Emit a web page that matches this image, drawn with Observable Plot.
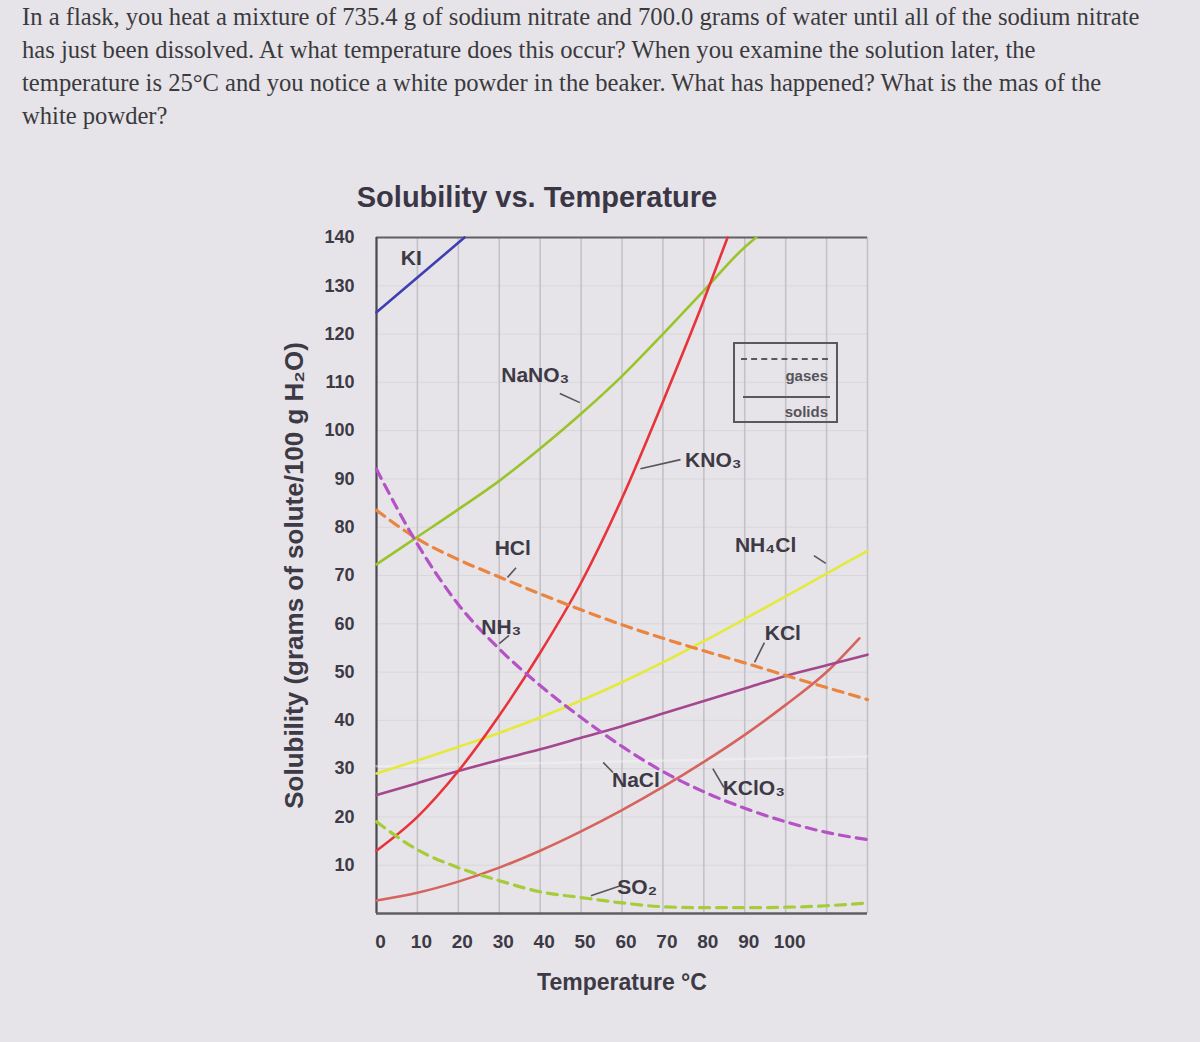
<!DOCTYPE html>
<html>
<head>
<meta charset="utf-8">
<script src="https://cdn.jsdelivr.net/npm/d3@7"></script>
<script src="https://cdn.jsdelivr.net/npm/@observablehq/plot@0.6"></script>
<style>
  body { margin:0; background:#e6e4e8; width:1200px; height:1042px; overflow:hidden; position:relative; font-family:"Liberation Sans", Arial, sans-serif; }
  #q { position:absolute; left:22px; top:0; font-family:"Liberation Serif","Times New Roman",serif; font-size:24.6px; line-height:33px; color:#3a3a3e; white-space:nowrap; }
  #title { position:absolute; left:0; width:1074px; text-align:center; top:181px; font-weight:bold; font-size:29px; color:#3b3646; }
  #chart { position:absolute; left:0; top:220px; }
  #legend { position:absolute; left:733px; top:342px; width:101px; height:77px; border:2px solid #5a585e; }
  #legend .dash { position:absolute; left:6px; top:14px; width:87px; border-top:2px dashed #5a585e; }
  #legend .solid { position:absolute; left:8px; top:52px; width:87px; border-top:2px solid #5a585e; }
  #legend .lt { position:absolute; right:8px; font-size:15px; font-weight:bold; color:#56545a; }
  g[aria-label="y-axis label"] text { font-size:26px; font-weight:bold; }
  g[aria-label="x-axis label"] text { font-size:23px; font-weight:bold; }
</style>
</head>
<body>
<div id="q">In a flask, you heat a mixture of 735.4 g of sodium nitrate and 700.0 grams of water until all of the sodium nitrate<br>has just been dissolved. At what temperature does this occur? When you examine the solution later, the<br>temperature is 25°C and you notice a white powder in the beaker. What has happened? What is the mas of the<br>white powder?</div>
<div id="title">Solubility vs. Temperature</div>
<div id="chart"></div>
<div id="legend">
  <div class="dash"></div><div class="lt" style="top:23px">gases</div>
  <div class="solid"></div><div class="lt" style="top:59px">solids</div>
</div>
<script>
// ---- data (temperature °C, solubility g / 100 g H2O) ----
const temps = [0, 10, 20, 30, 40, 50, 60, 70, 80, 90, 100, 110, 120];
const xTicks = [0, 10, 20, 30, 40, 50, 60, 70, 80, 90, 100];
const xGrid = [0, 10, 20, 30, 40, 50, 60, 70, 80, 90, 100, 110, 120];
const yTicks = [10, 20, 30, 40, 50, 60, 70, 80, 90, 100, 110, 120, 130, 140];

const kiT = [0, 21.5];
const kiSol = [124.5, 140];
const nano3T = [0, 10, 20, 30, 40, 50, 60, 70, 80, 90, 92.8];
const nano3Sol = [72.3, 78, 83.7, 89.6, 96.3, 103.5, 111.3, 120, 129, 138, 140];
const kno3T = [0, 10, 20, 30, 40, 50, 60, 70, 80, 85.8];
const kno3Sol = [13, 20, 29.5, 41, 54, 68.5, 86, 106, 127, 140];
const hclSol = [83.5, 77.6, 73.3, 69.7, 66.2, 62.9, 59.8, 57, 54.4, 51.9, 49.3, 46.8, 44.3];
const nh3Sol = [92, 76.5, 64, 54.8, 47.2, 40.6, 34.6, 29.4, 25.2, 21.8, 19, 16.8, 15.3];
const nh4clSol = [29, 31.7, 34.5, 37.4, 40.6, 44.1, 47.9, 52, 56.4, 61, 65.7, 70.4, 75.1];
const kclSol = [24.5, 27, 29.5, 31.8, 34, 36.4, 38.8, 41.4, 44, 46.6, 49.2, 51.4, 53.6];
const kclo3T = [0, 10, 20, 30, 40, 50, 60, 70, 80, 90, 100, 110, 118];
const kclo3Sol = [2.7, 4.3, 6.6, 9.5, 13, 17, 21.4, 26.2, 31.4, 37, 43.2, 50, 57];
const so2Sol = [19, 13.2, 9.5, 6.8, 4.5, 3.3, 2.2, 1.4, 1.2, 1.2, 1.3, 1.6, 2.2];
const naclT = [0, 60, 120];
const naclSol = [30.5, 31.5, 32.5];

// curve labels (text, temperature, solubility)
const labelText = ["KI", "NaNO₃", "KNO₃", "HCl", "NH₃", "NH₄Cl", "KCl", "NaCl", "KClO₃", "SO₂"];
const labelT    = [8.5, 38.8, 82.3, 33.3, 30.5, 95.1, 99.3, 63.4, 92.2, 63.7];
const labelS    = [135.8, 111.4, 93.8, 75.6, 59.2, 76.2, 58, 27.5, 25.9, 5.4];
// leader lines from labels to curves
const leadT1 = [44.8, 64.5, 32, 30, 106.9, 94.8, 55.4, 82.2, 52.4];
const leadS1 = [107.7, 92.1, 69.6, 55.9, 74.1, 56.1, 31.3, 30, 3.7];
const leadT2 = [49.7, 74.3, 34.1, 32.4, 109.8, 92.4, 57.8, 84.9, 59.8];
const leadS2 = [105.8, 94.0, 71.6, 57.6, 72.5, 52.0, 29.2, 26.1, 5.8];

// ---- styles ----
const colors = {
  KI: "#3d3fb2", NaNO3: "#9bc42a", KNO3: "#e9333b", NaCl: "#f4f3f5",
  NH4Cl: "#e4ea3c", KCl: "#a5478e", KClO3: "#d6645e",
  HCl: "#ea843e", NH3: "#b452c6", SO2: "#a6cc3a"
};

function rows(name, ts, vals) { return ts.map((t, i) => ({name, t, s: vals[i]})); }
const faint = rows("NaCl", naclT, naclSol);
const solids = [
  ...rows("KClO3", kclo3T, kclo3Sol),
  ...rows("KCl", temps, kclSol),
  ...rows("NH4Cl", temps, nh4clSol),
  ...rows("NaNO3", nano3T, nano3Sol),
  ...rows("KNO3", kno3T, kno3Sol),
  ...rows("KI", kiT, kiSol)
];
const gases = [
  ...rows("SO2", temps, so2Sol),
  ...rows("HCl", temps, hclSol),
  ...rows("NH3", temps, nh3Sol)
];
const labels = labelText.map((text, i) => ({text, t: labelT[i], s: labelS[i]}));
const leads = leadT1.map((t1, i) => ({t1, s1: leadS1[i], t2: leadT2[i], s2: leadS2[i]}));

const names = Object.keys(colors);
const chart = Plot.plot({
  width: 1200, height: 800,
  marginLeft: 376, marginRight: 333, marginTop: 17, marginBottom: 107,
  style: {background: "transparent", fontFamily: "Liberation Sans, Arial, sans-serif", color: "#3d3a46"},
  x: {domain: [0, 120]},
  y: {domain: [0, 140]},
  color: {domain: names, range: names.map(n => colors[n])},
  marks: [
    Plot.gridY(yTicks, {stroke: "#d9d7db", strokeOpacity: 1, strokeWidth: 1}),
    Plot.gridX(xGrid, {stroke: "#c3c2c6", strokeOpacity: 1, strokeWidth: 1.6}),
    Plot.ruleY([140], {stroke: "#605e64", strokeWidth: 2.2}),
    Plot.ruleX([0], {stroke: "#4c4a50", strokeWidth: 2.2}),
    Plot.ruleY([0], {stroke: "#605e64", strokeWidth: 2.6}),
    Plot.line(faint, {x: "t", y: "s", z: "name", stroke: "name", strokeOpacity: 0.45, strokeWidth: 2.5}),
    Plot.line(solids, {x: "t", y: "s", z: "name", stroke: "name", curve: "monotone-x", strokeWidth: 2.6}),
    Plot.line(gases, {x: "t", y: "s", z: "name", stroke: "name", curve: "monotone-x", strokeWidth: 3.2, strokeDasharray: "10,7"}),
    Plot.link(leads, {x1: "t1", y1: "s1", x2: "t2", y2: "s2", stroke: "#57555b", strokeWidth: 1.6}),
    Plot.text(labels, {x: "t", y: "s", text: "text", fontSize: 21, fontWeight: "bold", fill: "#3d3a46"}),
    Plot.axisX(xTicks, {tickSize: 0, tickPadding: 21, fontSize: 19, fontWeight: "bold", fill: "#3d3a46", dx: 4,
      label: "Temperature °C", labelAnchor: "center", labelArrow: "none", labelOffset: 76}),
    Plot.axisY(yTicks, {tickSize: 0, tickPadding: 22, fontSize: 18, fontWeight: "bold", fill: "#3d3a46",
      label: "Solubility (grams of solute/100 g H₂O)", labelAnchor: "center", labelArrow: "none", labelOffset: 92})
  ]
});
document.getElementById("chart").appendChild(chart);
</script>
</body>
</html>
